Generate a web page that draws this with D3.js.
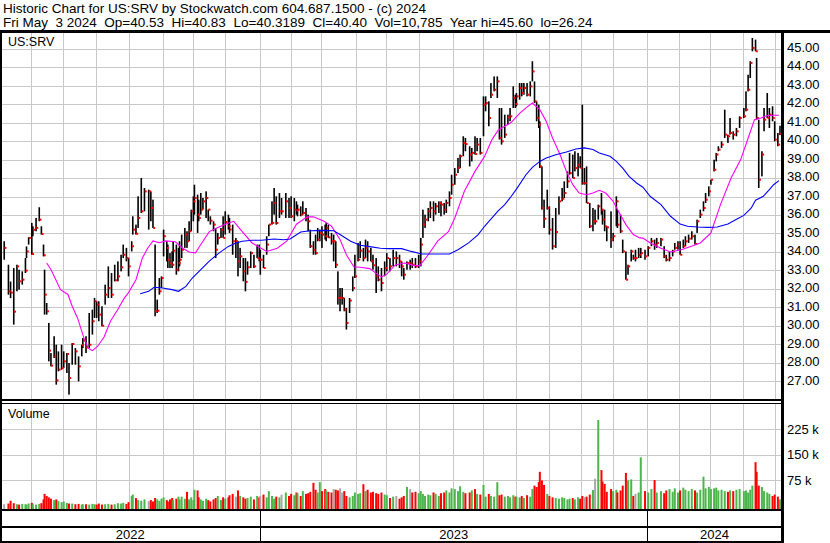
<!DOCTYPE html>
<html><head><meta charset="utf-8">
<script src="https://cdn.jsdelivr.net/npm/d3@7"></script>
<style>
body{margin:0;background:#fff}
svg{display:block}
text{font-family:"Liberation Sans",Arial,sans-serif;fill:#000;white-space:pre}
</style>
</head><body><svg id="c" width="830" height="543"></svg>
<script>
const startDate = "2022-05-04";
const days = [3,7,9,12,15,17,20,23,24,26, 29,30,33,36,38,40,41,43,45,47, 50,52,54,57,59,62,64,67,70,73, 76,77,80,83,86,88,90,92,95,98,
101,104,107,110,113,115,118,120,123,124, 127,129,132,135,139,141,143,145,147,149, 151,153,156,157,159,161,162,165,167,168, 170,173,175,177,179,181,182,185,186,188,
190,193,195,197,200,202,204,207,209,211, 214,215,218,221,223,225,228,230,232,235, 238,241,243,244,247,250,252,255,257,259, 262,264,268,271,273,276,278,279,282,284,
287,289,291,294,296,298,300,302,305,306, 308,311,313,315,317,319,321,323,325,328, 331,333,336,338,341,343,345,348,350,353, 355,358,361,363,366,369,372,375,377,379,
382,385,387,390,393,395,397,399,402,404, 407,409,412,414,417,419,422,424,427,430, 432,435,437,441,443,446,448,451,454,456, 459,461,464,467,469,471,474,477,479,482,
484,485,488,490,492,495,498,500,502,504, 506,507,509,511,514,516,519,522,525,528, 530,533,535,538,540,543,545,547,549,551, 554,557,559,562,565,566,568,570,574,576,
579,580,583,585,588,590,593,595,597,600, 602,606,609,612,615,617,621,624,626,629, 632,634,637,639,642,644,647,650,653,655, 658,661,663,666,668,671,673,675,678,681,
684,686,689,692,695,699,701,703,705,707, 710,711,713,716,718,721,723,726,728,731,733];
const highs = [34.58,33.31,32.4,33.13,33.31,33.04,32.95,33.67,34.3,34.8, 35.57,35.39,35.84,36.42,35.39,34.4,33.04,31.24,30.16,28.53, 29.44,28.98,28.62,28.98,28.62,28.53,27.99,29.07,28.8,28.35, 28.98,29.34,29.44,30.7,30.88,31.51,31.33,31.33,31.06,32.23,
33.22,32.86,33.31,33.49,33.85,34.4,34.22,33.67,34.58,35.93, 35.48,37.01,38.0,37.46,37.37,37.28,36.83,34.4,31.42,32.59, 32.68,35.21,34.58,34.4,33.94,34.03,34.58,34.4,34.22,34.58, 34.94,35.3,35.12,35.66,36.29,37.01,37.64,37.1,36.83,37.19,
36.92,37.28,36.29,35.93,35.66,35.3,35.03,35.3,35.93,36.2, 36.02,35.84,35.48,34.76,34.58,34.22,33.67,33.67,33.49,34.03, 33.85,34.4,34.4,34.12,33.85,34.85,35.48,36.74,37.46,37.01, 37.19,36.92,37.19,36.92,37.01,36.92,36.74,36.56,36.47,36.74,
36.38,36.02,35.21,34.58,34.94,35.3,35.21,35.39,35.48,35.57, 35.48,35.03,34.94,34.58,32.95,32.05,32.05,31.51,30.97,31.51, 32.68,33.85,34.49,34.58,34.22,34.67,34.58,34.22,33.85,33.67, 33.22,33.13,33.49,33.94,33.67,34.12,34.03,33.85,33.49,33.13,
33.49,33.58,33.67,33.67,33.85,34.76,36.29,36.02,36.38,36.74, 36.74,36.65,36.74,36.74,36.65,36.83,37.28,38.18,38.54,39.09, 39.27,40.26,40.17,39.72,39.63,40.26,40.17,40.17,42.42,42.42, 42.15,43.14,43.5,43.5,41.79,41.79,41.43,41.43,41.79,42.96,
42.51,42.6,43.14,43.14,43.14,43.14,43.23,44.32,43.23,42.15, 41.97,41.07,38.63,36.83,37.37,36.47,35.84,36.38,37.01,37.46, 37.82,38.36,39.36,39.27,39.45,39.36,39.18,41.97,38.54,38.63, 36.65,36.38,36.29,36.56,37.19,36.29,36.29,35.39,36.2,35.03,
37.01,36.29,36.02,34.67,34.03,33.31,34.12,33.85,34.12,34.22, 34.22,34.12,34.31,34.76,34.67,34.76,34.76,34.31,33.85,34.03, 34.12,34.49,34.58,34.58,34.67,34.85,34.94,35.12,34.94,35.75, 36.29,36.74,37.19,37.55,37.91,38.99,39.36,39.72,39.99,41.7,
40.35,41.25,40.53,40.71,41.34,41.79,42.69,43.59,44.32,45.58, 45.49,44.5,41.16,39.45,41.79,42.6,41.79,41.88,41.07,40.44,40.83];
const lows = [33.58,31.69,31.5,30.07,31.87,31.96,32.23,32.86,33.67,34.4, 33.85,34.85,35.12,35.66,34.94,33.76,30.61,30.61,28.08,27.81, 28.26,26.82,27.54,27.63,27.72,27.45,26.28,27.9,27.9,27.0, 28.35,28.8,28.53,28.8,29.53,30.43,30.43,30.25,29.98,31.15,
31.51,31.51,32.41,32.41,32.95,33.67,33.49,32.68,34.03,34.94, 34.94,35.3,36.11,36.2,35.21,35.66,35.3,30.52,30.7,31.69, 32.05,33.76,33.49,33.13,33.13,33.13,33.49,32.77,32.95,33.22, 33.67,34.22,34.22,34.58,35.12,35.66,36.02,35.03,35.66,36.02,
36.29,35.84,35.66,35.48,35.12,33.67,34.4,34.76,34.76,34.94, 35.21,35.03,33.85,33.67,32.68,33.13,32.41,31.87,32.77,33.13, 33.13,33.67,33.49,32.77,33.13,33.85,34.85,35.48,36.02,35.48, 35.84,36.02,35.84,35.84,35.84,35.66,36.02,35.93,35.93,36.02,
35.66,35.12,34.22,33.85,33.85,34.58,34.58,34.22,34.67,34.58, 34.76,34.4,33.49,33.13,31.15,30.79,31.15,30.79,29.8,30.7, 31.87,32.59,33.49,33.67,33.49,33.67,33.49,33.49,33.04,31.78, 32.41,31.87,32.68,32.95,32.95,33.22,33.22,33.13,32.68,32.5,
33.04,33.04,33.13,33.13,33.13,33.22,34.76,35.3,35.66,35.84, 35.66,36.02,36.11,35.93,36.02,36.11,36.47,37.1,37.64,38.27, 38.54,39.18,39.45,38.63,38.9,39.27,39.45,39.27,40.26,41.61, 40.8,42.33,42.69,42.33,40.08,39.81,40.17,40.89,41.07,41.79,
41.79,41.88,42.24,42.42,42.51,42.42,42.42,43.23,42.06,41.07, 40.71,38.54,36.29,35.3,36.29,34.94,34.13,34.22,36.02,36.74, 36.92,37.46,38.18,38.0,38.36,38.09,38.54,37.64,37.64,36.65, 35.3,35.12,35.48,35.75,36.02,35.48,35.12,34.58,34.22,34.58,
35.39,35.3,35.03,33.94,32.5,32.77,33.49,33.58,33.49,33.67, 33.67,33.58,33.76,34.31,34.12,34.22,34.31,33.67,33.49,33.49, 33.76,34.12,34.12,33.85,34.22,34.31,34.49,34.67,34.4,35.03, 35.84,36.2,36.65,37.01,37.64,38.36,38.9,39.45,39.63,40.17,
39.9,40.35,40.08,40.26,40.71,41.25,41.61,42.69,43.41,44.86, 44.86,41.16,37.46,38.09,40.53,41.25,40.71,41.07,39.99,39.72,40.32];
const closes = [34.22,31.87,31.8,30.77,33.22,32.41,32.5,32.99,34.03,34.76, 33.89,35.2,35.3,35.75,34.97,33.82,31.69,30.79,28.66,27.85, 28.35,27.05,27.63,27.72,28.08,28.48,27.18,29.02,28.62,27.81, 28.95,29.2,28.84,28.98,30.25,31.33,31.15,30.61,30.01,31.69,
32.05,31.69,32.47,32.68,33.17,33.85,33.67,33.22,34.31,35.21, 34.99,35.84,36.2,37.28,37.28,36.38,35.3,30.79,30.82,31.87, 32.59,34.85,34.22,33.58,33.4,33.31,34.07,33.04,33.4,33.58, 34.12,34.94,34.58,35.12,36.2,36.74,36.92,36.02,35.84,36.29,
36.74,36.92,36.29,35.69,35.48,34.12,34.76,35.21,34.76,35.62, 35.39,35.21,34.58,34.58,33.49,33.76,32.95,32.38,33.17,33.94, 33.22,33.67,33.58,33.58,33.13,34.4,35.48,35.57,36.65,35.57, 36.2,36.2,36.74,36.38,35.93,36.29,36.24,36.29,36.02,36.11,
35.84,35.66,34.31,34.12,33.94,34.67,35.03,34.94,34.85,35.3, 34.79,34.58,34.58,33.31,31.51,31.51,31.51,30.88,30.16,31.37, 32.05,32.68,33.58,34.07,33.67,34.22,34.03,33.49,33.28,32.68, 32.5,32.32,33.13,33.67,33.22,33.67,33.67,33.49,33.22,32.77,
33.4,33.4,33.31,33.22,33.49,34.4,35.48,35.75,36.2,36.38, 36.2,36.47,36.65,36.56,36.29,36.65,36.92,37.64,38.18,38.54, 39.18,39.9,39.84,39.27,39.36,39.3,39.81,39.36,41.97,42.06, 41.25,42.51,42.78,43.23,40.17,39.99,40.35,41.29,41.34,42.33,
42.01,42.42,42.87,42.6,42.87,42.51,42.96,43.77,42.15,41.25, 40.89,38.63,36.38,35.8,36.38,35.21,34.31,35.08,36.74,36.88, 37.19,37.82,38.27,38.0,38.54,38.72,38.54,37.73,37.73,36.65, 35.39,35.66,35.66,36.47,36.29,35.75,35.39,35.33,34.67,34.85,
36.74,35.48,35.12,34.03,32.5,33.22,34.03,33.67,33.67,33.85, 33.94,33.76,34.22,34.58,34.4,34.49,34.67,33.76,33.58,33.67, 34.03,34.22,34.4,33.85,34.31,34.58,34.72,34.85,34.43,35.66, 36.02,36.38,36.83,37.28,37.91,38.45,39.27,39.54,39.81,40.35,
40.26,40.44,40.35,40.53,41.25,41.34,41.7,42.78,44.23,45.04, 44.86,41.25,37.91,39.27,41.16,41.25,41.43,41.25,40.08,39.81,40.40];
// volume in thousands of shares
const volumes = [6,8,16,9,6,5,7,6,5,8, 10,6,5,7,9,20,36,30,26,22, 18,20,15,12,14,10,8,8,6,7, 5,6,6,5,7,6,5,8,5,6,
7,5,6,9,8,10,7,12,30,34, 24,18,16,20,15,18,14,24,20,16, 22,26,18,14,20,24,18,22,28,20, 28,22,42,20,26,18,48,46,26,20,
16,22,18,14,20,24,30,18,26,22, 26,32,36,28,46,30,26,22,24,28, 20,30,26,30,34,26,44,30,22,28, 26,34,40,30,36,32,40,38,30,44,
36,38,42,68,48,40,70,44,50,46, 42,40,50,48,46,52,40,44,30,26, 30,40,36,38,64,44,48,40,42,38, 36,40,34,32,24,28,30,22,26,30,
56,50,40,42,38,44,36,30,34,32, 40,36,30,38,40,46,40,52,50,44, 58,42,38,40,46,50,36,34,62,28, 36,30,28,70,32,34,28,30,26,32,
28,28,26,30,24,32,28,50,60,56, 70,100,75,62,36,30,26,24,22,26, 24,20,22,24,20,26,22,30,26,28, 34,47,80,250,105,72,65,42,50,44,
48,40,46,60,97,75,78,30,36,40, 142,44,40,50,76,40,44,38,46,50, 42,52,40,46,54,48,44,50,46,40, 48,86,52,56,50,52,54,46,48,44,
42,46,44,48,50,44,46,40,48,60, 128,100,60,56,44,40,36,30,34,28,20];

// moving averages (day offset, value)
const maShortDays = [43,47,56,63,67,72,78,82,86,91,97,103,110,116,120,127,133,138,143,149,155,164,171,177,183,188,196,203,211,219,227,236,243,250,260,269,278,288,294,304,311,319,325,332,338,347,354,358,363,371,380,389,394,402,411,421,427,436,446,455,462,468,474,480,484,488,494,500,507,513,519,526,532,538,544,551,557,563,569,576,582,588,595,601,604,611,621,630,640,649,658,668,677,687,696,702,709,715,721,727,732];
const maShortVals = [33.4,33.05,31.96,31.7,31.06,30.43,29.35,28.8,28.66,28.9,29.4,30.25,30.9,31.5,31.8,32.5,33.67,34.2,34.6,34.5,34.6,34.55,34.2,34.0,33.95,34.4,35.1,35.3,35.5,35.66,35.1,34.5,34.25,34.03,34.2,34.6,35.5,35.9,35.9,35.66,35.4,34.67,33.85,33.2,33.17,33.1,32.8,32.65,32.8,33.3,33.4,33.26,33.26,33.85,34.6,35.1,35.84,37.28,38.36,39.17,40.08,40.6,40.8,41.0,41.25,41.5,41.8,42.06,41.7,41.07,40.17,39.27,38.36,37.64,37.19,37.1,37.19,37.34,37.19,36.74,36.1,35.48,34.94,34.76,34.75,34.49,34.2,34.0,34.12,34.3,34.49,35.03,36.56,38.0,39.0,39.99,41.16,41.25,41.38,41.4,41.4];
const maLongDays = [131,139,144,152,161,167,174,180,188,196,205,214,221,227,236,245,257,266,272,282,291,304,313,319,329,338,347,357,365,377,386,396,408,422,430,440,449,455,462,468,474,480,485,494,500,507,513,522,532,541,549,557,563,573,579,585,591,598,604,611,621,630,639,646,655,665,674,684,693,699,706,710,717,723,727,732];
const maLongVals = [31.74,31.87,32.09,32.05,31.96,31.87,32.14,32.59,33.04,33.5,33.94,34.3,34.49,34.58,34.63,34.63,34.7,34.66,34.7,35.08,35.15,35.17,35.15,34.94,34.58,34.36,34.29,34.2,34.18,34.18,34.03,33.89,33.89,33.89,34.12,34.49,34.94,35.39,35.84,36.24,36.56,37.0,37.4,38.18,38.58,38.9,39.08,39.26,39.41,39.57,39.63,39.54,39.36,39.18,38.9,38.54,38.09,37.73,37.5,37.0,36.56,35.93,35.51,35.39,35.35,35.33,35.35,35.51,35.8,35.98,36.38,36.8,37.0,37.37,37.64,37.86];

const priceTicks = [27,28,29,30,31,32,33,34,35,36,37,38,39,40,41,42,43,44,45];
const volTicks = [75,150,225];
const volTickLabels = ["75 k","150 k","225 k"];
const yearLabels = ["2022","2023","2024"];
const holidays = ["2023-01-02","2024-01-01"];
const symbol = "US:SRV";
const headerLine1 = "Historic Chart for US:SRV by Stockwatch.com 604.687.1500 - (c) 2024";
const headerLine2 = "Fri May  3 2024  Op=40.53  Hi=40.83  Lo=40.3189  Cl=40.40  Vol=10,785  Year hi=45.60  lo=26.24";

const svg = d3.select("#c");
const parse = d3.timeParse("%Y-%m-%d");
const t0 = parse(startDate);
const toDate = d => d3.timeDay.offset(t0, d);
const plotL = 0, plotR = 781, axisX = 782;
const mainTop = 31, mainBot = 400;
const volTop = 403, volBot = 509;

const x = d3.scaleTime().domain([t0, toDate(733)]).range([1, 780]);
const y = d3.scaleLinear().domain([26, 46]).range([399.8, 30.2]);
const yv = d3.scaleLinear().domain([0, 225]).range([506.3, 428.7]);

// first trading day of each month
const hol = new Set(holidays);
const fmt = d3.timeFormat("%Y-%m-%d");
const monthStarts = d3.timeMonth.range(new Date(2022,5,1), new Date(2024,4,2)).map(m => {
  let d = m;
  while (d.getDay() === 0 || d.getDay() === 6 || hol.has(fmt(d))) d = d3.timeDay.offset(d, 1);
  return d;
});
const yearBounds = monthStarts.filter(d => d.getMonth() === 0);

// gridlines
const grid = svg.append("g").attr("stroke", "#c8c8c8").attr("stroke-width", 1).attr("shape-rendering", "crispEdges");
grid.selectAll("line.h").data(priceTicks).join("line")
  .attr("x1", plotL).attr("x2", plotR).attr("y1", d => Math.round(y(d)) + 0.5).attr("y2", d => Math.round(y(d)) + 0.5);
grid.selectAll("line.vm").data(monthStarts).join("line")
  .attr("x1", d => Math.round(x(d)) + 0.5).attr("x2", d => Math.round(x(d)) + 0.5).attr("y1", mainTop).attr("y2", mainBot);
grid.selectAll("line.vv").data(monthStarts).join("line").attr("class","vv")
  .attr("x1", d => Math.round(x(d)) + 0.5).attr("x2", d => Math.round(x(d)) + 0.5).attr("y1", volTop).attr("y2", volBot);
grid.selectAll("line.hv").data(volTicks).join("line").attr("class","hv")
  .attr("x1", plotL).attr("x2", plotR).attr("y1", d => Math.round(yv(d)) + 0.5).attr("y2", d => Math.round(yv(d)) + 0.5);

// clip for main panel
svg.append("clipPath").attr("id", "mc").append("rect").attr("x", 2).attr("y", mainTop).attr("width", plotR - 2).attr("height", mainBot - mainTop - 1);

const bars = days.map((d, i) => ({date: toDate(d), hi: highs[i], lo: lows[i], cl: closes[i], v: volumes[i],
  dir: i === 0 ? 0 : Math.sign(closes[i] - closes[i-1])}));

const main = svg.append("g").attr("clip-path", "url(#mc)");
main.append("g").selectAll("rect").data(bars).join("rect")
  .attr("x", d => x(d.date) - 0.8).attr("width", 1.6)
  .attr("y", d => y(d.hi)).attr("height", d => Math.max(1, y(d.lo) - y(d.hi)))
  .attr("fill", "#000");
main.append("g").selectAll("rect").data(bars).join("rect")
  .attr("x", d => x(d.date) + 0.2).attr("width", 2)
  .attr("y", d => y(d.cl) - 1).attr("height", 2)
  .attr("fill", "#ff0000");

const line = d3.line().x(d => x(toDate(d[0]))).y(d => y(d[1]));
main.append("path").datum(d3.zip(maShortDays, maShortVals)).attr("d", line)
  .attr("fill", "none").attr("stroke", "#ff00ff").attr("stroke-width", 1.1);
main.append("path").datum(d3.zip(maLongDays, maLongVals)).attr("d", line)
  .attr("fill", "none").attr("stroke", "#0000ff").attr("stroke-width", 1.1);

// volume
svg.append("g").selectAll("rect").data(bars).join("rect")
  .attr("x", d => x(d.date) - 1).attr("width", 2)
  .attr("y", d => yv(d.v)).attr("height", d => volBot - yv(d.v))
  .attr("fill", d => d.dir < 0 ? "#ff0000" : d.dir > 0 ? "#4cb64c" : "#a8a8a8");

// frame
const fr = svg.append("g").attr("stroke", "#000").attr("shape-rendering", "crispEdges");
fr.append("line").attr("x1", 0).attr("x2", 830).attr("y1", 31).attr("y2", 31).attr("stroke-width", 3);
fr.append("line").attr("x1", 1).attr("x2", 1).attr("y1", 30).attr("y2", 542).attr("stroke-width", 2);
fr.append("line").attr("x1", axisX).attr("x2", axisX).attr("y1", 30).attr("y2", 543).attr("stroke-width", 3);
fr.append("line").attr("x1", 0).attr("x2", axisX).attr("y1", 400).attr("y2", 400).attr("stroke-width", 2);
fr.append("line").attr("x1", 0).attr("x2", axisX).attr("y1", 403).attr("y2", 403).attr("stroke-width", 1);
fr.append("line").attr("x1", 0).attr("x2", axisX).attr("y1", 510).attr("y2", 510).attr("stroke-width", 2);
fr.append("line").attr("x1", 0).attr("x2", axisX).attr("y1", 527).attr("y2", 527).attr("stroke-width", 2);
fr.append("line").attr("x1", 0).attr("x2", axisX).attr("y1", 541.5).attr("y2", 541.5).attr("stroke-width", 2);
fr.selectAll("line.yb").data(yearBounds).join("line").attr("class", "yb")
  .attr("x1", d => Math.round(x(d)) + 0.5).attr("x2", d => Math.round(x(d)) + 0.5)
  .attr("y1", 510).attr("y2", 541).attr("stroke-width", 1);

// texts
svg.append("text").attr("x", 3).attr("y", 13).attr("font-size", 13.5).text(headerLine1);
svg.append("text").attr("x", 3).attr("y", 27).attr("font-size", 13.5).text(headerLine2);
svg.append("text").attr("x", 8).attr("y", 46).attr("font-size", 12.5).text(symbol);
svg.append("text").attr("x", 8).attr("y", 418).attr("font-size", 12.5).text("Volume");

svg.append("g").selectAll("text").data(priceTicks).join("text")
  .attr("x", 787).attr("y", d => y(d) + 3.3).attr("font-size", 13).text(d => d.toFixed(2));
svg.append("g").selectAll("text").data(volTicks).join("text")
  .attr("x", 787).attr("y", d => yv(d) + 4.8).attr("font-size", 13).text((d, i) => volTickLabels[i]);

const bounds = [x.range()[0] - 1, ...yearBounds.map(d => x(d)), axisX];
svg.append("g").selectAll("text").data(yearLabels).join("text")
  .attr("x", (d, i) => (bounds[i] + bounds[i + 1]) / 2).attr("y", 539)
  .attr("text-anchor", "middle").attr("font-size", 13).text(d => d);
</script>
</body></html>
